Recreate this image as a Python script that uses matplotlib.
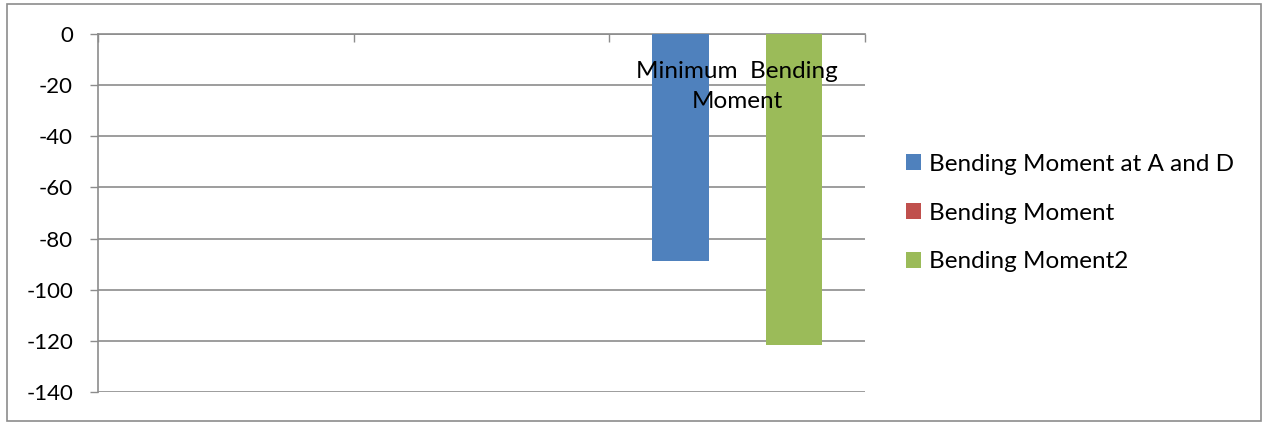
import matplotlib.pyplot as plt
from matplotlib.patches import Rectangle

plt.rcParams['font.family'] = ['Lato', 'DejaVu Sans']
plt.rcParams['axes.unicode_minus'] = False

# chart data
categories = ['', '', 'Minimum  Bending\nMoment']
series_names = ['Bending Moment at A and D', 'Bending Moment', 'Bending Moment2']
moment_ad = [0, 0, -88.7]
moment_mid = [0, 0, 0]
moment_2 = [0, 0, -121.6]
series_colors = ['#4F81BD', '#C0504D', '#9BBB59']
y_ticks = [0, -20, -40, -60, -80, -100, -120, -140]

grid_col = '#8C8C8C'
txt_size = 17.5

fig = plt.figure(figsize=(12.68, 4.25), dpi=100)
ax = fig.add_axes([98 / 1268, 1 - 392 / 425, (865 - 98) / 1268, (392 - 34) / 425])

x = list(range(len(categories)))
w = 1 / 4.5
bars = []
for i, (vals, col) in enumerate(zip([moment_ad, moment_mid, moment_2], series_colors)):
    b = ax.bar([xi + (i - 1) * w for xi in x], vals, width=w, color=col,
               linewidth=0, zorder=3)
    bars.append(b)

ax.set_xlim(-0.5, len(categories) - 0.5)
ax.set_ylim(y_ticks[-1], y_ticks[0])
ax.set_yticks(y_ticks)
ax.tick_params(axis='y', direction='out', length=6, width=1, color=grid_col,
               labelsize=16, pad=12)
ax.yaxis.grid(True, color=grid_col, linewidth=1.2, zorder=0)

# category axis sits at zero, which is the top edge
ax.xaxis.tick_top()
ax.set_xticks([xi - 0.5 for xi in x] + [x[-1] + 0.5])
ax.set_xticklabels([])
ax.tick_params(axis='x', direction='in', length=5.5, width=1,
               color=grid_col, top=True, bottom=False)

# category names hang just under the zero line, drawn over the bars
for xi, name in zip(x, categories):
    ax.annotate(name, xy=(xi, 0), xytext=(0, -19.5), textcoords='offset points',
                ha='center', va='top', fontsize=txt_size, linespacing=1.5,
                zorder=6)

for side in ['right', 'bottom']:
    ax.spines[side].set_visible(False)
for side in ['left', 'top']:
    ax.spines[side].set_color(grid_col)
    ax.spines[side].set_linewidth(1.2)

ax.legend([b[0] for b in bars], series_names, loc='center left',
          bbox_to_anchor=(906 / 1268, 1 - 213 / 425), bbox_transform=fig.transFigure,
          frameon=False, fontsize=txt_size, handlelength=0.6, handleheight=0.6,
          handletextpad=0.35, labelspacing=1.15, borderpad=0, borderaxespad=0)

fig.patches.append(Rectangle((7 / 1268, 4 / 425), 1254 / 1268, 417 / 425,
                             transform=fig.transFigure, fill=False,
                             edgecolor='#8C8C8C', linewidth=1.2))

fig.savefig('out.png', dpi=100)
